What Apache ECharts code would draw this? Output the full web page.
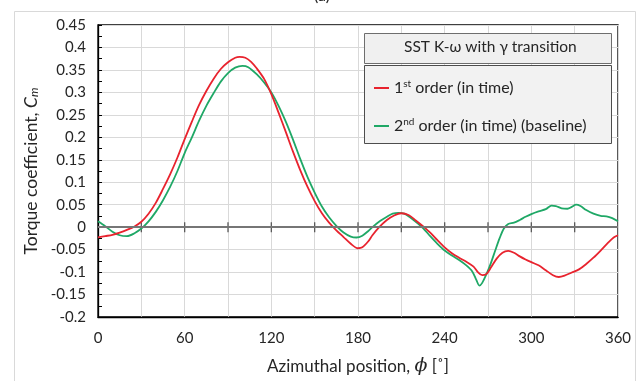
<!DOCTYPE html>
<html>
<head>
<meta charset="utf-8">
<script src="https://cdn.jsdelivr.net/npm/echarts@6/dist/echarts.min.js"></script>
<style>
  html, body { margin: 0; padding: 0; background: #fff; }
  #chart { width: 644px; height: 381px; }
</style>
</head>
<body>
<div id="chart"></div>
<script>
// Torque coefficient over one revolution, SST k-omega with gamma transition
const phiFirst = [0,5,10,15,20,25,30,35,40,45,50,55,60,65,70,75,80,85,90,95,98,102,106,110,115,120,125,130,135,140,145,150,155,160,165,170,175,180,183,187,190,195,200,205,210,215,220,225,230,235,240,245,250,255,260,263,266,269,272,276,280,284,288,292,296,300,305,310,315,319,323,328,333,338,343,348,353,357,360];
const cmFirst = [-0.023,-0.02,-0.017,-0.012,-0.006,0.001,0.012,0.03,0.054,0.085,0.118,0.155,0.196,0.235,0.272,0.303,0.33,0.352,0.367,0.377,0.379,0.377,0.368,0.353,0.33,0.296,0.255,0.212,0.168,0.127,0.09,0.058,0.031,0.01,-0.007,-0.022,-0.037,-0.047,-0.045,-0.032,-0.018,0.001,0.016,0.026,0.031,0.027,0.015,0.002,-0.012,-0.029,-0.045,-0.058,-0.068,-0.077,-0.088,-0.1,-0.107,-0.104,-0.09,-0.07,-0.057,-0.053,-0.057,-0.065,-0.072,-0.078,-0.085,-0.096,-0.107,-0.111,-0.108,-0.101,-0.094,-0.082,-0.068,-0.052,-0.035,-0.023,-0.018];

const phiSecond = [0,5,10,15,20,25,30,35,40,45,50,55,60,65,70,75,80,85,90,95,100,104,110,115,120,125,130,135,140,145,150,155,160,165,170,175,179,183,187,190,195,200,204,208,212,216,220,225,230,235,240,245,250,255,259,262,264,266,269,272,275,278,281,284,288,292,296,300,305,310,314,317,321,325,328,331,334,338,343,348,352,356,360];
const cmSecond = [0.013,0.002,-0.01,-0.018,-0.02,-0.014,-0.003,0.013,0.034,0.06,0.09,0.125,0.165,0.2,0.237,0.27,0.298,0.324,0.343,0.355,0.359,0.356,0.34,0.322,0.3,0.27,0.235,0.195,0.152,0.112,0.077,0.046,0.022,0.003,-0.012,-0.021,-0.023,-0.019,-0.009,0,0.013,0.023,0.03,0.032,0.03,0.022,0.012,-0.002,-0.02,-0.037,-0.052,-0.063,-0.073,-0.085,-0.098,-0.118,-0.13,-0.124,-0.104,-0.08,-0.052,-0.025,-0.003,0.007,0.01,0.016,0.023,0.029,0.035,0.04,0.048,0.047,0.042,0.041,0.045,0.05,0.047,0.038,0.03,0.025,0.024,0.02,0.013];

// tick marks drawn across the zero line
const zeroTicks = [30,60,90,120,150,180,210,240,270,300,330];

const seriesNames = ['1st order (in time)', '2nd order (in time) (baseline)'];
const legendTitle = 'SST K-\u03c9 with \u03b3 transition';

const FONT = 'Lato, "Open Sans", sans-serif';
const pair = (xs, ys) => xs.map((x, i) => [x, ys[i]]);

const chart = echarts.init(document.getElementById('chart'), null, { renderer: 'canvas' });

chart.setOption({
  animation: false,
  backgroundColor: '#ffffff',
  textStyle: { fontFamily: FONT },
  grid: { left: 98, right: 26, top: 25, bottom: 62, show: true, borderColor: '#000', borderWidth: 1.3, backgroundColor: 'transparent' },
  xAxis: {
    type: 'value', min: 0, max: 360, interval: 60,
    axisLine: { show: true, onZero: false, lineStyle: { color: '#000', width: 1.3 } },
    axisTick: { show: false },
    axisLabel: { color: '#262626', fontSize: 15, margin: 14, fontFamily: FONT },
    splitLine: { show: true, lineStyle: { color: '#d9d9d9', width: 1 } },
    minorTick: { show: false, splitNumber: 2 },
    minorSplitLine: { show: true, lineStyle: { color: '#d9d9d9', width: 1 } },
    name: 'Azimuthal position, {phi|\u03d5} [\u02da]',
    nameLocation: 'middle', nameGap: 40,
    nameTextStyle: { color: '#262626', fontSize: 17, fontFamily: FONT,
      rich: { phi: { fontSize: 19, fontStyle: 'italic', fontFamily: '"DejaVu Serif", serif', color: '#262626' } } }
  },
  yAxis: {
    type: 'value', min: -0.2, max: 0.45, interval: 0.05,
    axisLine: { show: true, onZero: false, lineStyle: { color: '#000', width: 1.3 } },
    axisTick: { show: true, inside: true, length: 4, lineStyle: { color: '#000' } },
    minorTick: { show: true, splitNumber: 2, length: 4, lineStyle: { color: '#000' } },
    axisLabel: { color: '#262626', fontSize: 15, margin: 12, fontFamily: FONT,
      formatter: v => String(parseFloat(v.toFixed(3))) },
    splitLine: { show: true, lineStyle: { color: '#d9d9d9', width: 1 } },
    name: 'Torque coefficient, {c|C}{m|m}',
    nameLocation: 'middle', nameRotate: 90, nameGap: 47,
    nameTextStyle: { color: '#262626', fontSize: 17.5, fontFamily: FONT,
      rich: {
        c: { fontSize: 17.5, fontStyle: 'italic', fontFamily: FONT, color: '#262626' },
        m: { fontSize: 12, fontStyle: 'italic', fontFamily: FONT, color: '#262626', verticalAlign: 'bottom', padding: [6, 0, 0, 0] }
      } }
  },
  legend: {
    orient: 'vertical', left: 369, top: 74, itemGap: 21, z: 20,
    itemWidth: 15, itemHeight: 2, icon: 'rect',
    data: seriesNames,
    textStyle: { color: '#262626', fontSize: 16, fontFamily: FONT,
      rich: {
        t: { fontSize: 16, fontFamily: FONT, color: '#262626' },
        s: { fontSize: 10, fontFamily: FONT, color: '#262626', verticalAlign: 'top', padding: [0, 4, 8, 0] }
      } },
    formatter: name => name === seriesNames[0]
      ? '{t|1}{s|st}{t|order (in time)}'
      : '{t|2}{s|nd}{t|order (in time) (baseline)}'
  },
  graphic: [
    { type: 'rect', left: 12, top: 9, shape: { width: 621, height: 380 }, style: { fill: 'none', stroke: '#d9d9d9', lineWidth: 1 }, silent: true, z: -10 },
    { type: 'text', left: 'center', top: -12, style: { text: '(a)', font: '16px ' + FONT, fill: '#262626' } },
    { type: 'rect', left: 364, top: 33, shape: { width: 247, height: 30 }, style: { fill: '#f0f0f0', stroke: '#6e6e6e', lineWidth: 1 }, z: 5 },
    { type: 'text', left: 404, top: 39, style: { text: legendTitle, font: '15.5px ' + FONT, fill: '#262626' }, z: 6 },
    { type: 'rect', left: 364, top: 65, shape: { width: 247, height: 78 }, style: { fill: '#f2f2f2', stroke: '#4d4d4d', lineWidth: 1 }, z: 5 }
  ],
  series: [
    {
      name: seriesNames[0], type: 'line', data: pair(phiFirst, cmFirst),
      smooth: 0.3, showSymbol: false, symbol: 'none', z: 4,
      lineStyle: { color: '#e8232e', width: 1.8 }, itemStyle: { color: '#e8232e' },
      markLine: {
        silent: true, symbol: 'none', label: { show: false },
        lineStyle: { color: '#767676', width: 1.8, type: 'solid' },
        data: [{ yAxis: 0 }]
      }
    },
    {
      name: seriesNames[1], type: 'line', data: pair(phiSecond, cmSecond),
      smooth: 0.3, showSymbol: false, symbol: 'none', z: 3,
      lineStyle: { color: '#1fa866', width: 1.8 }, itemStyle: { color: '#1fa866' }
    },
    {
      type: 'custom', silent: true, z: 2,
      data: zeroTicks.map(x => [x, 0]),
      renderItem: (params, api) => {
        const p = api.coord([api.value(0), api.value(1)]);
        return { type: 'line', shape: { x1: p[0], y1: p[1] - 5, x2: p[0], y2: p[1] + 5 },
          style: { stroke: '#595959', lineWidth: 1.3 } };
      }
    }
  ]
});
</script>
</body>
</html>
